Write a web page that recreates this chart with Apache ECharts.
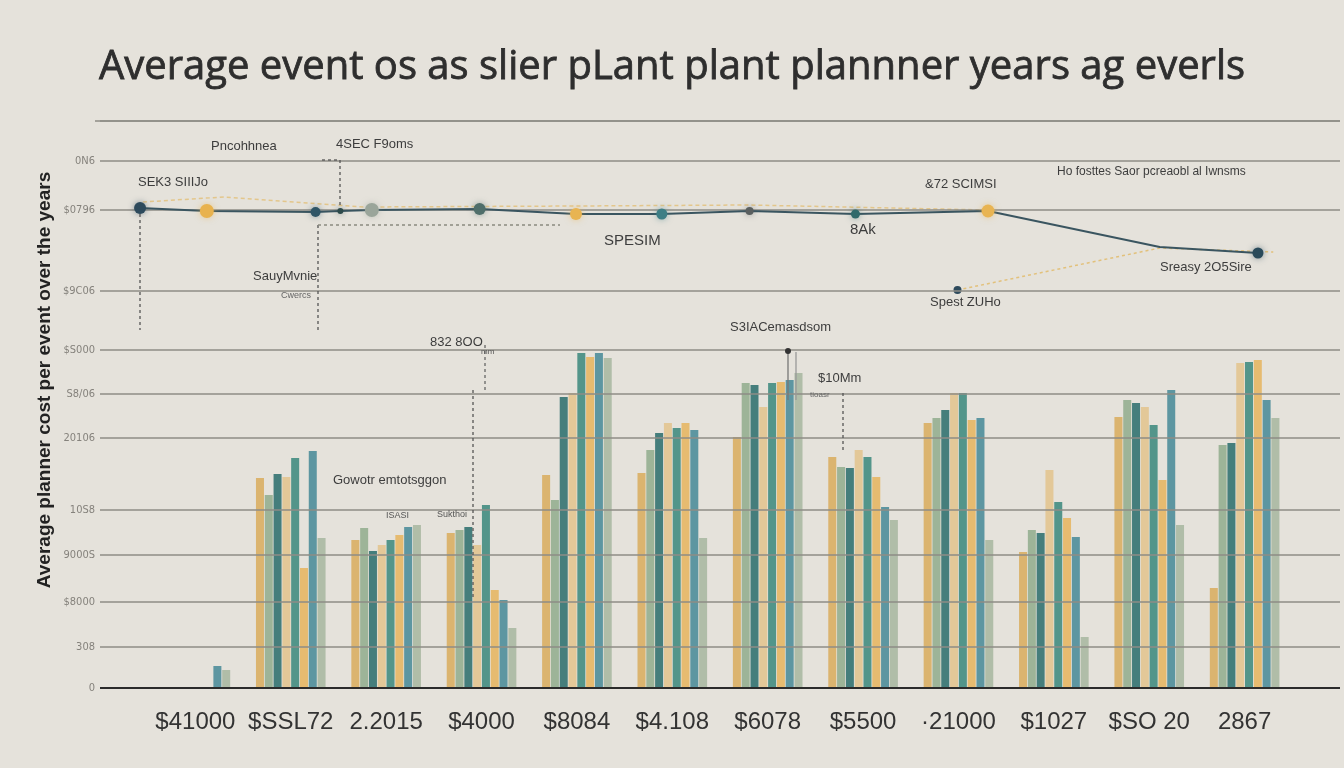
<!DOCTYPE html>
<html>
<head>
<meta charset="utf-8">
<script src="https://cdn.jsdelivr.net/npm/echarts@6/dist/echarts.min.js"></script>
<style>
html,body{margin:0;padding:0;background:#e5e2db;}
#chart{width:1344px;height:768px;}
</style>
</head>
<body>
<div id="chart"></div>
<script>
// ---------- DATA ----------
const categories = ['$41000', '$SSL72', '2.2015', '$4000', '$8084', '$4.108', '$6078', '$5500', '\u00b721000', '$1027', '$SO 20', '2867'];

// y-axis tick positions (value units) and their printed labels
const yTickValues = [0, 41, 86, 133, 178, 250, 294, 338, 397, 478, 527, 567];
const yTickLabels = ['0', '308', '$8000', '9000S', '10S8', '20106', 'S8/06', '$S000', '$9C06', '$0796', '0N6', ''];

// bar series (one value per category)
const seriesA = [0, 210, 148, 155, 213, 215, 251, 231, 265, 136, 271, 100];
const seriesB = [0, 193, 160, 158, 188, 238, 305, 221, 270, 158, 288, 243];
const seriesC = [0, 214, 137, 161, 291, 255, 303, 220, 278, 155, 285, 245];
const seriesD = [0, 211, 143, 143, 295, 265, 281, 238, 295, 218, 281, 325];
const seriesE = [0, 230, 148, 183, 335, 260, 305, 231, 295, 186, 263, 326];
const seriesF = [0, 120, 153, 98, 331, 265, 306, 211, 268, 170, 208, 328];
const seriesG = [22, 237, 161, 88, 335, 258, 308, 181, 270, 151, 298, 288];
const seriesH = [18, 150, 163, 60, 330, 150, 315, 168, 148, 51, 163, 270];

// top line: position along the category scale and value
const lineX = [-0.58, 0.12, 1.26, 1.52, 1.85, 2.98, 3.99, 4.89, 5.81, 6.92, 8.31, 10.11, 11.14];
const lineY = [480, 477, 476, 477, 478, 479, 474, 474, 477, 474, 477, 441, 435];

// faint dashed trend
const trendX = [-0.55, 0.3, 1.76, 3.99, 5.8, 8.31];
const trendY = [486, 491, 481, 482, 483, 478];

// lower dashed link
const lowX = [7.99, 10.11, 11.3];
const lowY = [398, 440, 436];

// ---------- STYLES ----------
const barColors = ['#d9ad60', '#93ad8e', '#2f6f6e', '#e3c48e', '#3f8a7e', '#e6b561', '#4a8b98', '#a9b7a0'];
const markerColors = ['#2d4a5c', '#e8b24e', '#2f5566', '#2d4a4a', '#9aa59a', '#4f6e6a', '#e8b452', '#3d7e85', '#5a5f5f', '#2f6a6a', '#e8b452', null, '#2a4a5a'];
const markerSizes = [12, 14, 10, 6, 14, 12, 12, 11, 8, 9, 13, 0, 11];

const chart = echarts.init(document.getElementById('chart'), null, {renderer: 'canvas'});

const axisCats = [''].concat(categories, ['']);
const pad = arr => ['-'].concat(arr, ['-']);
const barSeriesData = [seriesA, seriesB, seriesC, seriesD, seriesE, seriesF, seriesG, seriesH];
const barNames = ['A', 'B', 'C', 'D', 'E', 'F', 'G', 'H'];

const bars = barSeriesData.map((d, i) => ({
  name: 'Series ' + barNames[i],
  type: 'bar',
  xAxisIndex: 0,
  yAxisIndex: 0,
  data: pad(d),
  barWidth: 8,
  barGap: '10%',
  itemStyle: {color: barColors[i], opacity: 0.88},
  z: 2
}));

const lineData = lineX.map((x, i) => ({
  value: [x, lineY[i]],
  symbolSize: markerSizes[i],
  symbol: markerColors[i] ? 'circle' : 'none',
  itemStyle: {color: markerColors[i] || '#3a5560', shadowBlur: 6, shadowColor: markerColors[i] ? markerColors[i] + '88' : 'transparent'}
}));

const labelMap = {};
yTickValues.forEach((v, i) => labelMap[v] = yTickLabels[i]);

const gridLineSeries = {
  name: 'grid',
  type: 'line',
  xAxisIndex: 1,
  yAxisIndex: 0,
  data: [],
  silent: true,
  markLine: {
    silent: true,
    symbol: 'none',
    animation: false,
    data: yTickValues.map(v => ({
      yAxis: v,
      lineStyle: v === 0 ? {color: '#2b2b2b', width: 2, type: 'solid'} : {color: '#8e8c86', width: 1.5, type: 'solid'}
    })),
    label: {
      show: true,
      position: 'start',
      distance: 5,
      formatter: p => labelMap[p.value] || '',
      color: '#85827c',
      fontSize: 11,
      fontFamily: 'Liberation Sans Narrow, DejaVu Sans Condensed, sans-serif'
    }
  }
};

const annot = (text, x, y, size, color, family) => ({
  type: 'text', left: x, top: y, silent: true, z: 50,
  style: {text: text, fontSize: size, fill: color || '#3d3d3d', fontFamily: family || 'Liberation Sans Narrow, Liberation Sans, sans-serif'}
});
const dline = (x1, y1, x2, y2, color, dash) => ({
  type: 'line', silent: true, z: 40,
  shape: {x1: x1, y1: y1, x2: x2, y2: y2},
  style: {stroke: color || '#555', lineWidth: 1.3, lineDash: dash === false ? null : [3, 3]}
});

const option = {
  backgroundColor: '#e5e2db',
  animation: false,
  title: {
    text: 'Average event os as slier pLant plant plannner years ag everls',
    left: 'center',
    top: 43,
    textStyle: {fontFamily: 'Open Sans, Noto Sans, sans-serif', fontSize: 40, fontWeight: 'normal', color: '#2e2e2e',
                textBorderColor: '#2e2e2e', textBorderWidth: 0.8}
  },
  grid: {left: 100, right: 4, top: 121, bottom: 80},
  xAxis: [
    {
      type: 'category',
      data: axisCats,
      boundaryGap: false,
      axisLine: {show: false},
      axisTick: {show: false},
      splitLine: {show: false},
      axisLabel: {color: '#333', fontSize: 24, margin: 22, fontFamily: 'Liberation Sans, sans-serif', interval: 0}
    },
    {
      type: 'value', min: -1, max: 12, show: false, splitLine: {show: false}
    }
  ],
  yAxis: [{
    type: 'value',
    min: 0,
    max: 567,
    axisLine: {show: false},
    axisTick: {show: false},
    axisLabel: {show: false},
    splitLine: {show: false}
  }],
  series: [gridLineSeries].concat(bars, [
    {
      name: 'Trend',
      type: 'line',
      xAxisIndex: 1, yAxisIndex: 0,
      data: trendX.map((x, i) => [x, trendY[i]]),
      symbol: 'none',
      lineStyle: {color: '#e2bb6a', width: 1.5, type: [4, 3], opacity: 0.7},
      z: 4
    },
    {
      name: 'Low link',
      type: 'line',
      xAxisIndex: 1, yAxisIndex: 0,
      data: lowX.map((x, i) => ({value: [x, lowY[i]], symbol: i === 0 ? 'circle' : 'none', symbolSize: 8, itemStyle: {color: '#2d4a5c'}})),
      lineStyle: {color: '#e2bb6a', width: 1.5, type: [3, 3], opacity: 0.85},
      z: 4
    },
    {
      name: 'Average',
      type: 'line',
      xAxisIndex: 1, yAxisIndex: 0,
      data: lineData,
      lineStyle: {color: '#3a5560', width: 2},
      z: 6
    }
  ]),
  graphic: [
    // y-axis title
    {type: 'text', silent: true, z: 50, x: 45, y: 380, rotation: Math.PI / 2,
     style: {text: 'Average planner cost per event over the years', fontSize: 19, fontWeight: 'bold', fill: '#222',
             fontFamily: 'Liberation Sans Narrow, Liberation Sans, sans-serif', align: 'center', verticalAlign: 'middle'}},
    // annotation leader lines
    {type: 'line', silent: true, z: 40, shape: {x1: 95, y1: 121, x2: 1340, y2: 121}, style: {stroke: '#8e8c86', lineWidth: 1.5}},
    dline(140, 214, 140, 330, '#555'),
    dline(318, 225, 318, 330, '#555'),
    dline(318, 225, 560, 225, '#8a8a80'),
    dline(340, 160, 340, 208, '#555'),
    dline(322, 160, 340, 160, '#555'),
    dline(485, 345, 485, 390, '#666'),
    dline(473, 390, 473, 600, '#555'),
    dline(788, 352, 788, 400, '#777', false),
    dline(796, 352, 796, 400, '#999', false),
    dline(843, 393, 843, 452, '#555'),
    {type: 'circle', silent: true, z: 41, shape: {cx: 788, cy: 351, r: 3}, style: {fill: '#333'}},
    // annotation texts
    annot('Pncohhnea', 211, 140, 13),
    annot('4SEC F9oms', 336, 138, 13),
    annot('SEK3 SIIIJo', 138, 176, 13),
    annot('SauyMvnie', 253, 270, 13),
    annot('Cwercs', 281, 291, 9, '#666'),
    annot('SPESIM', 604, 233, 15),
    annot('8Ak', 850, 222, 15),
    annot('&72 SCIMSI', 925, 178, 13),
    annot('Ho fosttes Saor pcreaobl al Iwnsms', 1057, 166, 12),
    annot('Sreasy 2O5Sire', 1160, 261, 13),
    annot('Spest ZUHo', 930, 296, 13),
    annot('S3IACemasdsom', 730, 321, 13),
    annot('$10Mm', 818, 372, 13),
    annot('tioasr', 810, 391, 8, '#666'),
    annot('832 8OO', 430, 336, 13),
    annot('mm', 481, 348, 8, '#555'),
    annot('Gowotr emtotsggon', 333, 474, 13),
    annot('ISASI', 386, 511, 9, '#555'),
    annot('Sukthoi', 437, 510, 9, '#555')
  ]
};

chart.setOption(option);
</script>
</body>
</html>
